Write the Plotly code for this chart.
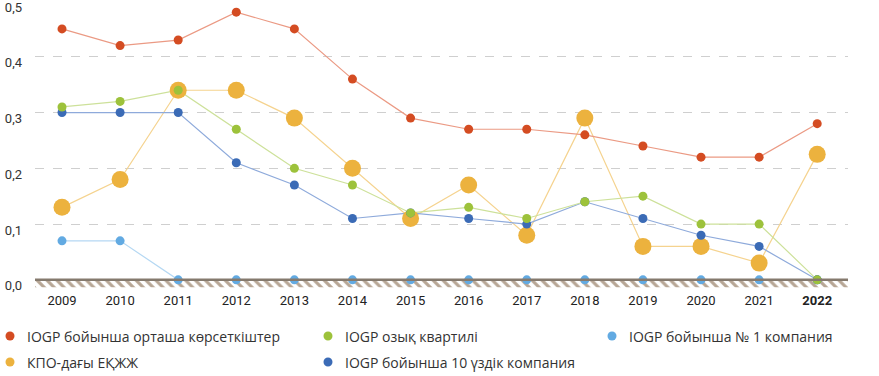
import plotly.graph_objects as go

years = [2009, 2010, 2011, 2012, 2013, 2014, 2015, 2016, 2017, 2018, 2019, 2020, 2021, 2022]
tick_labels = ["2009", "2010", "2011", "2012", "2013", "2014", "2015", "2016", "2017", "2018",
               "2019", "2020", "2021", "<b>2022</b>"]

iogp_avg = [0.45, 0.42, 0.43, 0.48, 0.45, 0.36, 0.29, 0.27, 0.27, 0.26, 0.24, 0.22, 0.22, 0.28]
iogp_lower_q = [0.31, 0.32, 0.34, 0.27, 0.20, 0.17, 0.12, 0.13, 0.11, 0.14, 0.15, 0.10, 0.10, 0.0]
iogp_top1 = [0.07, 0.07, 0.0, 0.0, 0.0, 0.0, 0.0, 0.0, 0.0, 0.0, 0.0, 0.0, 0.0, 0.0]
kpo = [0.13, 0.18, 0.34, 0.34, 0.29, 0.20, 0.11, 0.17, 0.08, 0.29, 0.06, 0.06, 0.03, 0.225]
iogp_top10 = [0.30, 0.30, 0.30, 0.21, 0.17, 0.11, 0.12, 0.11, 0.10, 0.14, 0.11, 0.08, 0.06, 0.0]

names = {
    "avg": "IOGP бойынша орташа көрсеткіштер",
    "lq": "IOGP озық квартилі",
    "top1": "IOGP бойынша № 1 компания",
    "kpo": "КПО-дағы ЕҚЖЖ",
    "top10": "IOGP бойынша 10 үздік компания",
}

C = {
    "avg": ("#d44c22", "#eb9a84"),
    "lq": ("#9dc23b", "#cde19a"),
    "top1": ("#62aae2", "#b5d8f3"),
    "kpo": ("#ecb23e", "#f5d38f"),
    "top10": ("#3b6bb6", "#8eaadb"),
}

W, H = 879, 376
ML, MR, MT, MB = 35, 31, 1, 85
PW, PH = W - ML - MR, H - MT - MB

XMIN, XMAX = 2008.535, 2022.53
YMIN, YMAX = -0.02, 0.5
HATCH_BOTTOM = -0.0135

fig = go.Figure()

# hatched base band under the zero line
fig.add_trace(go.Scatter(
    x=[XMIN, XMAX, XMAX, XMIN, XMIN], y=[0, 0, HATCH_BOTTOM, HATCH_BOTTOM, 0],
    mode="lines", fill="toself", line=dict(width=0),
    fillcolor="rgba(0,0,0,0)",
    fillpattern=dict(shape="\\", fgcolor="#6f4e2c", bgcolor="white", size=7, solidity=0.45),
    hoverinfo="skip", showlegend=False,
))

order = [("top1", iogp_top1, 9), ("kpo", kpo, 17), ("top10", iogp_top10, 9),
         ("lq", iogp_lower_q, 9), ("avg", iogp_avg, 9)]
for k, v, s in order:
    fig.add_trace(go.Scatter(
        x=years, y=v, mode="lines", line=dict(color=C[k][1], width=1.2),
        showlegend=False, hoverinfo="skip"))
for k, v, s in order:
    fig.add_trace(go.Scatter(
        x=years, y=v, mode="markers", marker=dict(color=C[k][0], size=s),
        showlegend=False, name=names[k]))

# zero axis line
fig.add_shape(type="line", xref="x", yref="y", x0=XMIN, x1=XMAX, y0=0, y1=0,
              line=dict(color="#857a6e", width=2.5))

# manual legend (marker circle + text), positioned in page pixels
def px_x(px):
    return (px - ML) / PW

def px_y(py):
    return (MT + PH - py) / PH

legend_items = [("avg", 10, 336), ("lq", 328, 336), ("top1", 612, 336),
                ("kpo", 10, 362), ("top10", 328, 362)]
for k, mx, my in legend_items:
    fig.add_shape(type="circle", xref="paper", yref="paper",
                  xsizemode="pixel", ysizemode="pixel",
                  xanchor=px_x(mx), yanchor=px_y(my),
                  x0=-4.5, x1=4.5, y0=-4.5, y1=4.5,
                  fillcolor=C[k][0], line=dict(width=0))
    fig.add_annotation(x=px_x(mx + 15), y=px_y(my), xref="paper", yref="paper",
                       text=names[k], showarrow=False, xanchor="left", yanchor="middle",
                       font=dict(family="Open Sans", size=14, color="#333333"))

fig.update_layout(
    width=W, height=H,
    margin=dict(l=ML, r=MR, t=MT, b=MB),
    paper_bgcolor="white", plot_bgcolor="white",
    separators=", ",
    showlegend=False,
    font=dict(family="Roboto", size=13, color="#333333"),
    xaxis=dict(range=[XMIN, XMAX], tickmode="array", tickvals=years, ticktext=tick_labels,
               showgrid=False, zeroline=False, showline=False, ticks="", automargin=False,
               tickfont=dict(family="Roboto", size=13, color="#222222")),
    yaxis=dict(range=[YMIN, YMAX], tickmode="array", tickvals=[0, 0.1, 0.2, 0.3, 0.4, 0.5],
               tickformat=".1f", showgrid=True, gridcolor="#cfcfcf", griddash="dash",
               gridwidth=1, zeroline=False, showline=False, ticks="", automargin=False,
               ticklabelstandoff=12, ticklabelshift=6, ticklabeloverflow="allow",
               tickfont=dict(family="Roboto", size=13, color="#333333")),
)

fig.write_html("out.html", config={"displayModeBar": False},
               post_script="document.body.style.margin='0';document.body.style.padding='0';")
